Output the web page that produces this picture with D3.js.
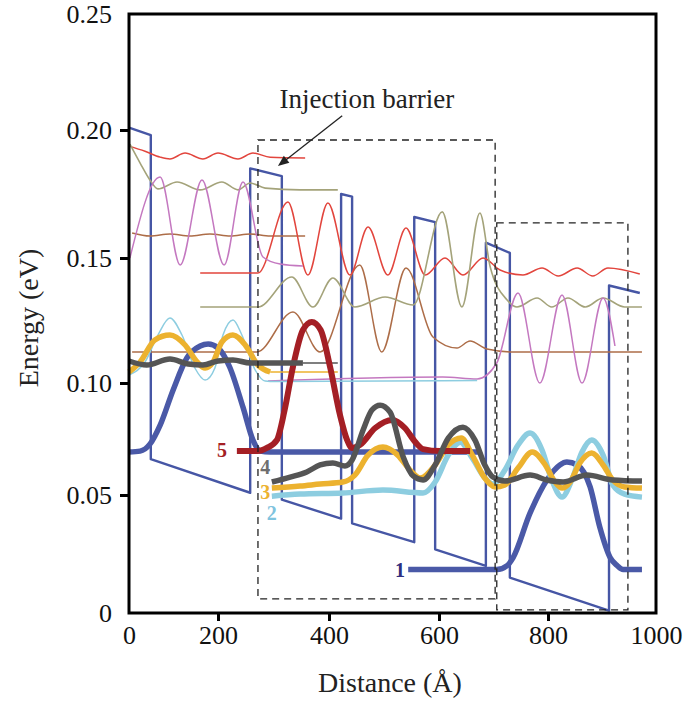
<!DOCTYPE html>
<html><head><meta charset="utf-8">
<script src="https://cdn.jsdelivr.net/npm/d3@7"></script>
<style>body{margin:0;background:#fff} svg{display:block} text{font-family:"Liberation Serif","Times New Roman",serif}</style>
</head><body><svg id="c" width="689" height="701"></svg>
<script>
// ---------- axes ----------
const xTicks = [0, 200, 400, 600, 800, 1000];
const xTickLabels = ["0", "200", "400", "600", "800", "1000"];
const yTicks = [0, 0.05, 0.10, 0.15, 0.20, 0.25];
const yTickLabels = ["0", "0.05", "0.10", "0.15", "0.20", "0.25"];

// ---------- conduction band profile ----------
const bandX = [0,49,49,258,258,315,315,422,422,442,442,555,555,593,593,686,686,730,730,913,913,970];
const bandY = [0.201,0.198,0.066,0.051,0.185,0.182,0.048,0.040,0.175,0.174,0.038,0.030,0.166,0.164,0.027,0.020,0.156,0.152,0.015,0.001,0.139,0.136];

// ---------- thick wavefunctions (states 1-5) ----------
const wf1aX = [0,25,47,70,99,130,160,178,200,221,245,263,276,294,672];
const wf1aY = [0.0692,0.0696,0.0727,0.0812,0.0968,0.1100,0.1148,0.1156,0.1140,0.1064,0.0892,0.0745,0.0696,0.0692,0.0692];
const wf1bX = [544,706,725,736,767,798,822,835,854,878,896,915,928,939,974];
const wf1bY = [0.0184,0.0184,0.0201,0.0235,0.0423,0.0567,0.0634,0.0647,0.0634,0.0536,0.0363,0.0235,0.0201,0.0184,0.0184];

const wf2aX = [0,36,65,92,119,148,171,193,209,227,243,267,285,303,670];
const wf2aY = [0.1032,0.1084,0.1192,0.1260,0.1192,0.1060,0.1012,0.1060,0.1192,0.1252,0.1192,0.1052,0.1008,0.1006,0.1010];
const wf2bX = [297,348,425,498,571,593,617,639,661,684,699,721,745,767,789,807,826,844,863,881,902,920,942,974];
const wf2bY = [0.0495,0.0504,0.0509,0.0522,0.0509,0.0558,0.0678,0.0736,0.0665,0.0576,0.0549,0.0612,0.0723,0.0777,0.0701,0.0567,0.0491,0.0567,0.0692,0.0745,0.0678,0.0545,0.0504,0.0491];

const wf3aX = [0,25,58,92,126,153,171,189,207,227,249,272,294];
const wf3aY = [0.1044,0.1084,0.1172,0.1192,0.1152,0.1084,0.1060,0.1084,0.1164,0.1192,0.1152,0.1072,0.1044];
const wf3extX = [294,416];
const wf3extY = [0.1044,0.1044];
const wf3bX = [297,348,384,425,447,471,498,525,547,566,593,617,641,661,684,703,721,745,771,795,813,826,841,859,881,902,920,942,974];
const wf3bY = [0.0531,0.0540,0.0549,0.0558,0.0589,0.0678,0.0714,0.0678,0.0612,0.0576,0.0634,0.0723,0.0754,0.0678,0.0576,0.0536,0.0545,0.0620,0.0692,0.0634,0.0558,0.0531,0.0558,0.0643,0.0687,0.0634,0.0567,0.0536,0.0531];

const wf4aX = [0,40,92,133,166,200,227,258,279,353];
const wf4aY = [0.1088,0.1072,0.1096,0.1076,0.1072,0.1088,0.1092,0.1080,0.1080,0.1080];
const wf4extX = [353,416];
const wf4extY = [0.1080,0.1080];
const wf4bX = [297,330,360,384,407,429,442,462,478,493,511,535,553,571,593,617,644,666,684,699,721,767,798,828,872,920,974];
const wf4bY = [0.0558,0.0580,0.0603,0.0634,0.0643,0.0629,0.0656,0.0790,0.0879,0.0901,0.0870,0.0670,0.0585,0.0567,0.0634,0.0754,0.0803,0.0745,0.0634,0.0580,0.0562,0.0589,0.0567,0.0558,0.0589,0.0567,0.0562];

const wf5X = [234,272,288,306,320,335,353,369,385,402,420,433,442,456,484,515,538,557,571,602,657];
const wf5Y = [0.0696,0.0696,0.0710,0.0745,0.0879,0.1064,0.1212,0.1244,0.1212,0.1064,0.0857,0.0745,0.0710,0.0723,0.0799,0.0835,0.0799,0.0736,0.0705,0.0696,0.0696];

// ---------- thin upper-state wavefunctions ----------
const redAX = [0,36,70,92,126,166,200,236,263,294,357];
const redAY = [0.1937,0.1917,0.1894,0.1887,0.1910,0.1887,0.1910,0.1887,0.1910,0.1894,0.1891];
const redBX = [160,272,326,362,398,438,471,507,540,575,611,644,681,712,754,789,819,854,883,911,970];
const redBY = [0.1440,0.1440,0.1719,0.1432,0.1715,0.1432,0.1621,0.1432,0.1617,0.1432,0.1500,0.1432,0.1500,0.1452,0.1432,0.1460,0.1428,0.1460,0.1428,0.1460,0.1436];

const oliveAX = [2,25,47,65,108,160,207,236,258,285,348,416];
const oliveAY = [0.1945,0.1871,0.1805,0.1770,0.1797,0.1766,0.1797,0.1766,0.1793,0.1773,0.1766,0.1766];
const oliveBX = [160,272,333,371,407,447,502,553,606,642,675,694,725,743,780,807,837,869,902,942,974];
const oliveBY = [0.1304,0.1304,0.1424,0.1304,0.1420,0.1304,0.1344,0.1312,0.1680,0.1304,0.1676,0.1464,0.1332,0.1304,0.1340,0.1304,0.1340,0.1304,0.1340,0.1304,0.1304];

const purpleAX = [2,70,115,164,211,245,281,312,353];
const purpleAY = [0.1500,0.1816,0.1472,0.1805,0.1472,0.1797,0.1504,0.1476,0.1468];
const purpleBX = [290,607,670,706,745,785,826,863,902,924];
const purpleBY = [0.1008,0.1024,0.1016,0.1080,0.1360,0.1000,0.1352,0.1000,0.1340,0.1148];

const brownAX = [7,47,92,137,182,222,258,294,357];
const brownAY = [0.1598,0.1586,0.1594,0.1586,0.1594,0.1586,0.1594,0.1586,0.1586];
const brownBX = [7,270,335,384,456,496,540,589,633,657,688,736,974];
const brownBY = [0.1124,0.1124,0.1284,0.1124,0.1472,0.1124,0.1460,0.1184,0.1140,0.1168,0.1136,0.1124,0.1124];

// ---------- dashed period boxes ----------
const boxX0 = [272, 706];
const boxX1 = [703, 948];
const boxY0 = [0.0060, 0.0013];
const boxY1 = [0.1961, 0.1637];

// ---------- state labels ----------
const stateLabels = ["5", "4", "3", "2", "1"];
const stateLabelX = [207, 285, 285, 297, 529];
const stateLabelY = [0.0700, 0.0625, 0.0515, 0.0422, 0.0184];

// ---------- annotation ----------
const annoText = "Injection barrier";
const annoTextX = 469, annoTextY = 0.2096;
const arrowX = [424, 308];
const arrowY = [0.2061, 0.1859];

// ================= drawing =================
const svg = d3.select("#c");
const x = d3.scaleLinear().domain(xTicks).range([129, 218, 329, 439, 548, 656]);
const y = d3.scaleLinear().domain(yTicks).range([613, 495, 383, 258, 130, 14]);
const serif = '"Liberation Serif", "Times New Roman", serif';

const zip = (xs, ys) => xs.map((v, i) => [v, ys[i]]);
const smooth = d3.line().x(d => x(d[0])).y(d => y(d[1])).curve(d3.curveMonotoneX);
const straight = d3.line().x(d => x(d[0])).y(d => y(d[1]));

function wave(xs, ys, color, w, gen = smooth) {
  svg.append("path").attr("d", gen(zip(xs, ys)))
    .attr("fill", "none").attr("stroke", color).attr("stroke-width", w)
    .attr("stroke-linejoin", "round").attr("stroke-linecap", "butt");
}
function txt(sel) { return sel.style("font-family", serif); }

// band
wave(bandX, bandY, "#4656a5", 2.4, straight);

const C = {red: "#e2453d", olive: "#a4a37a", purple: "#c478c0", brown: "#ad6d48",
           lblue: "#8dcde0", orange: "#ecb22f", gray: "#555555", blue: "#4a59a7", dred: "#a41f25"};
// thin states
wave(brownAX, brownAY, C.brown, 1.5);
wave(brownBX, brownBY, C.brown, 1.5);
wave(redAX, redAY, C.red, 1.5);
wave(redBX, redBY, C.red, 1.5);
wave(oliveAX, oliveAY, C.olive, 1.6);
wave(oliveBX, oliveBY, C.olive, 1.6);
wave(purpleAX, purpleAY, C.purple, 1.5);
wave(purpleBX, purpleBY, C.purple, 1.5);
wave(wf3extX, wf3extY, C.orange, 1.5, straight);
wave(wf4extX, wf4extY, C.gray, 1.5, straight);
wave(wf2aX, wf2aY, C.lblue, 1.5);

// thick states
wave(wf1aX, wf1aY, C.blue, 5.5);
wave(wf1bX, wf1bY, C.blue, 5.5);
wave(wf2bX, wf2bY, C.lblue, 5.5);
wave(wf3aX, wf3aY, C.orange, 5.5);
wave(wf3bX, wf3bY, C.orange, 5.5);
wave(wf5X, wf5Y, C.dred, 6);
wave(wf4aX, wf4aY, C.gray, 5.5);
wave(wf4bX, wf4bY, C.gray, 5.5);

// dashed boxes
boxX0.forEach((bx, i) => {
  svg.append("rect")
    .attr("x", x(bx)).attr("y", y(boxY1[i]))
    .attr("width", x(boxX1[i]) - x(bx)).attr("height", y(boxY0[i]) - y(boxY1[i]))
    .attr("fill", "none").attr("stroke", "#222").attr("stroke-width", 1.3)
    .attr("stroke-dasharray", "7,5");
});

// state labels
const labelColors = [C.dred, "#6e6e6e", C.orange, "#7fc3de", "#2e2f80"];
txt(svg.selectAll(".slab").data(stateLabels).enter().append("text"))
  .attr("x", (d, i) => x(stateLabelX[i])).attr("y", (d, i) => y(stateLabelY[i]))
  .attr("text-anchor", "middle").attr("dominant-baseline", "central")
  .attr("font-weight", "bold").attr("font-size", 20)
  .attr("fill", (d, i) => labelColors[i]).text(d => d);

// annotation
txt(svg.append("text")).attr("x", x(annoTextX)).attr("y", y(annoTextY))
  .attr("text-anchor", "middle").attr("font-size", 27)
  .attr("fill", "#222").text(annoText);
const ax0 = x(arrowX[0]), ay0 = y(arrowY[0]), ax1 = x(arrowX[1]), ay1 = y(arrowY[1]);
const ang = Math.atan2(ay1 - ay0, ax1 - ax0);
const hl = 11, hw = 4.5;
svg.append("line").attr("x1", ax0).attr("y1", ay0)
  .attr("x2", ax1 - Math.cos(ang) * hl * 0.8).attr("y2", ay1 - Math.sin(ang) * hl * 0.8)
  .attr("stroke", "#222").attr("stroke-width", 1.3);
const bx = ax1 - Math.cos(ang) * hl, by = ay1 - Math.sin(ang) * hl;
svg.append("path").attr("d",
  `M${ax1},${ay1}L${bx - Math.sin(ang) * hw},${by + Math.cos(ang) * hw}L${bx + Math.sin(ang) * hw},${by - Math.cos(ang) * hw}Z`)
  .attr("fill", "#222");

// frame
svg.append("rect").attr("x", x(0)).attr("y", y(0.25))
  .attr("width", x(1000) - x(0)).attr("height", y(0) - y(0.25))
  .attr("fill", "none").attr("stroke", "#000").attr("stroke-width", 3);

// axes
const xAxis = d3.axisBottom(x).tickValues(xTicks).tickFormat((d, i) => xTickLabels[i])
  .tickSize(8).tickSizeOuter(0).tickPadding(5);
const gx = svg.append("g").attr("transform", `translate(0,${y(0)})`).call(xAxis);
const yAxis = d3.axisLeft(y).tickValues(yTicks).tickFormat((d, i) => yTickLabels[i])
  .tickSize(9).tickSizeOuter(0).tickPadding(8);
const gy = svg.append("g").attr("transform", `translate(${x(0)},0)`).call(yAxis);
[gx, gy].forEach(g => {
  g.attr("font-family", null).attr("font-size", null);
  g.select(".domain").remove();
  g.selectAll(".tick line").attr("stroke", "#000").attr("stroke-width", 3);
  txt(g.selectAll(".tick text")).attr("font-size", 26).attr("fill", "#111");
});
gx.selectAll(".tick").filter(d => d === 0 || d === 1000).select("line").remove();
gy.selectAll(".tick").filter(d => d === 0 || d === 0.25).select("line").remove();

// axis titles
txt(svg.append("text")).attr("x", 390).attr("y", 692).attr("text-anchor", "middle")
  .attr("font-size", 28).attr("fill", "#222").text("Distance (Å)");
txt(svg.append("text")).attr("transform", "translate(38,318) rotate(-90)").attr("text-anchor", "middle")
  .attr("font-size", 28).attr("fill", "#222").text("Energy (eV)");
</script></body></html>
